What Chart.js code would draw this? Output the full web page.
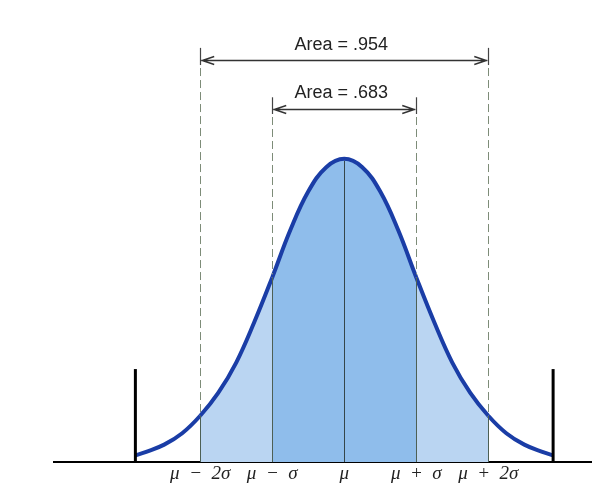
<!DOCTYPE html>
<html>
<head>
<meta charset="utf-8">
<script src="https://cdn.jsdelivr.net/npm/chart.js@4/dist/chart.umd.min.js"></script>
<style>
  html, body { margin: 0; padding: 0; background: #fff; }
  #wrap { width: 592px; height: 485px; position: relative; }
</style>
</head>
<body>
<div id="wrap"><canvas id="normalChart"></canvas></div>
<script>
// valori (z in unità di sigma)
const zValues = [-2.9, -2.75, -2.5, -2.25, -2, -1.75, -1.5, -1.25, -1, -0.75, -0.5, -0.25, 0,
                 0.25, 0.5, 0.75, 1, 1.25, 1.5, 1.75, 2, 2.25, 2.5, 2.75, 2.9];
const density = [0.009, 0.0135, 0.023, 0.038, 0.061, 0.091, 0.131, 0.184, 0.243, 0.305, 0.356, 0.388, 0.399,
                 0.388, 0.356, 0.305, 0.243, 0.184, 0.131, 0.091, 0.061, 0.038, 0.023, 0.0135, 0.009];
const tickValues = [-2, -1, 0, 1, 2];
const tickLabels = ["μ − 2σ", "μ − σ", "μ", "μ + σ", "μ + 2σ"];
const areaSpans = [2, 1];
const areaLabels = ["Area = .954", "Area = .683"];
const tailEdges = [-2.9, 2.9];

const points = zValues.map((z, i) => ({ x: z, y: density[i] }));

// colore del riempimento per ogni tratto
function bandColor(ctx) {
  const a = ctx.p0.parsed.x, b = ctx.p1.parsed.x;
  if (a >= -1 && b <= 1) return "#8fbdeb";
  if (a >= -2 && b <= 2) return "#bad5f2";
  return "rgba(0,0,0,0)";
}

// linee verticali, frecce e testi
const overlay = {
  id: "overlay",
  afterDatasetsDraw(chart) {
    const c = chart.ctx;
    const xs = chart.scales.x, ys = chart.scales.y;
    const base = ys.getPixelForValue(0);
    const curveY = (z) => ys.getPixelForValue(density[zValues.indexOf(z)]);
    const levels = {
      2: { top: 0.545, arrow: 0.529, text: 0.549 },
      1: { top: 0.480, arrow: 0.4646, text: 0.4856 }
    };
    c.save();

    // linee interne sotto la curva
    [-2, -1, 1, 2].forEach((z) => {
      const px = Math.round(xs.getPixelForValue(z)) + 0.5;
      c.strokeStyle = "#4d6055";
      c.lineWidth = 1;
      c.setLineDash([]);
      c.beginPath();
      c.moveTo(px, base);
      c.lineTo(px, curveY(z));
      c.stroke();
    });
    const mx = Math.round(xs.getPixelForValue(0)) + 0.5;
    c.strokeStyle = "#35464a";
    c.beginPath();
    c.moveTo(mx, base);
    c.lineTo(mx, curveY(0) + 2);
    c.stroke();

    // linee tratteggiate sopra la curva
    areaSpans.forEach((s) => {
      const lv = levels[s];
      [-s, s].forEach((z) => {
        const px = Math.round(xs.getPixelForValue(z)) + 0.5;
        const top = ys.getPixelForValue(lv.top);
        const arr = ys.getPixelForValue(lv.arrow);
        c.strokeStyle = "#444";
        c.lineWidth = 1.2;
        c.setLineDash([]);
        c.beginPath();
        c.moveTo(px, top);
        c.lineTo(px, arr + 5);
        c.stroke();
        c.strokeStyle = "#7d8c78";
        c.lineWidth = 1;
        c.setLineDash([8, 4]);
        c.beginPath();
        c.moveTo(px, arr + 8);
        c.lineTo(px, curveY(z) - 3);
        c.stroke();
      });
    });
    c.setLineDash([]);

    // frecce e etichette
    areaSpans.forEach((s, i) => {
      const lv = levels[s];
      const x1 = xs.getPixelForValue(-s), x2 = xs.getPixelForValue(s);
      const y = Math.round(ys.getPixelForValue(lv.arrow)) + 0.5;
      c.strokeStyle = "#333";
      c.lineWidth = 1.4;
      c.beginPath();
      c.moveTo(x1 + 1, y);
      c.lineTo(x2 - 1, y);
      c.moveTo(x1 + 14, y - 4);
      c.lineTo(x1 + 2, y);
      c.lineTo(x1 + 14, y + 4);
      c.moveTo(x2 - 14, y - 4);
      c.lineTo(x2 - 2, y);
      c.lineTo(x2 - 14, y + 4);
      c.stroke();
      c.fillStyle = "#222";
      c.font = "18px 'Liberation Sans', Arial, sans-serif";
      c.textAlign = "center";
      c.textBaseline = "middle";
      c.fillText(areaLabels[i], (x1 + x2) / 2 - 3, ys.getPixelForValue(lv.text));
    });

    // barre nere agli estremi
    tailEdges.forEach((z) => {
      const px = xs.getPixelForValue(z);
      c.strokeStyle = "#000";
      c.lineWidth = 3;
      c.beginPath();
      c.moveTo(px, base);
      c.lineTo(px, ys.getPixelForValue(0.1224));
      c.stroke();
    });
    c.restore();
  }
};

const ctx = document.getElementById("normalChart").getContext("2d");
new Chart(ctx, {
  type: "line",
  data: {
    datasets: [
      {
        data: points,
        borderColor: "#1a3da6",
        borderWidth: 4,
        pointRadius: 0,
        tension: 0.4,
        fill: "origin",
        backgroundColor: "rgba(0,0,0,0)",
        segment: { backgroundColor: bandColor }
      }
    ]
  },
  options: {
    responsive: true,
    maintainAspectRatio: false,
    animation: false,
    layout: { padding: { left: 54, right: 0, top: 0, bottom: 0 } },
    plugins: { legend: { display: false }, tooltip: { enabled: false } },
    scales: {
      x: {
        type: "linear",
        min: -4.03,
        max: 3.44,
        grid: { display: false, drawTicks: false },
        border: { color: "#000", width: 2 },
        afterBuildTicks: (axis) => { axis.ticks = tickValues.map((v) => ({ value: v })); },
        ticks: {
          autoSkip: false,
          maxRotation: 0,
          padding: 1,
          color: "#222",
          font: { family: "'Liberation Serif', 'DejaVu Serif', serif", style: "italic", size: 19, lineHeight: 1.1 },
          callback: (v) => tickLabels[tickValues.indexOf(v)].replace(/ /g, "\u2002")
        }
      },
      y: { display: false, min: 0, max: 0.608 }
    }
  },
  plugins: [overlay]
});
</script>
</body>
</html>
